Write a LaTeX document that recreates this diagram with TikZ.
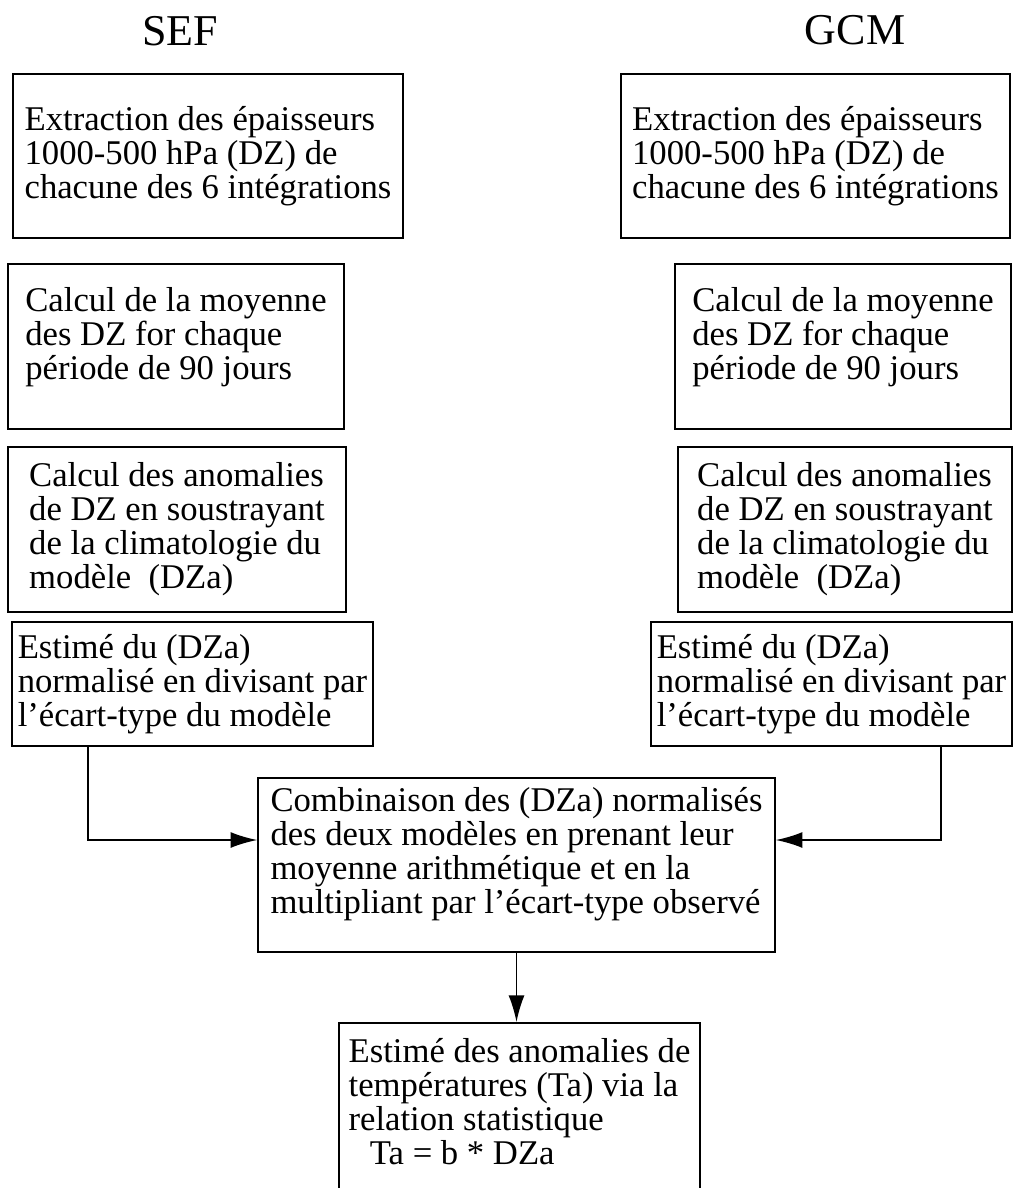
\documentclass[tikz,border=0pt]{standalone}
\usepackage{fontspec}
\setmainfont{Liberation Serif}
\usetikzlibrary{arrows.meta}
\begin{document}
\begin{tikzpicture}[x=0.75pt,y=-0.75pt,
  box/.style={draw, line width=1.2pt, align=left, font=\fontsize{26pt}{25.5pt}\selectfont, inner sep=0pt},
  titletext/.style={font=\fontsize{33pt}{36pt}\selectfont, anchor=base, inner sep=0pt},
  arr/.style={line width=1.2pt, -{Latex[length=20pt,width=12pt]}}]
\useasboundingbox (0,0) rectangle (1013,1188);
\clip (0,0) rectangle (1013,1188);

\node[titletext] (sef) at (180,46) {SEF};
\node[titletext] (gcm) at (855,45) {GCM};

\node[box, minimum width=292.5pt, minimum height=123pt] (l1) at (208,156)
  {Extraction des épaisseurs\\1000-500 hPa (DZ) de\\chacune des 6 intégrations};
\node[box, minimum width=291.75pt, minimum height=123pt] (r1) at (815.5,156)
  {Extraction des épaisseurs\\1000-500 hPa (DZ) de\\chacune des 6 intégrations};

\node[box, minimum width=252pt, minimum height=123.75pt] (l2) at (176,346.5)
  {Calcul de la moyenne\\des DZ for chaque\\période de 90 jours\\[-6pt]};
\node[box, minimum width=252pt, minimum height=123.75pt] (r2) at (843,346.5)
  {Calcul de la moyenne\\des DZ for chaque\\période de 90 jours\\[-6pt]};

\node[box, minimum width=253.5pt, minimum height=123.75pt] (l3) at (177,529.5)
  {Calcul des anomalies\\de DZ en soustrayant\\de la climatologie du\\modèle~~(DZa)};
\node[box, minimum width=250.5pt, minimum height=123.75pt] (r3) at (845,529.5)
  {Calcul des anomalies\\de DZ en soustrayant\\de la climatologie du\\modèle~~(DZa)};

\node[box, minimum width=270.75pt, minimum height=93pt] (l4) at (192.5,684)
  {Estimé du (DZa)\\normalisé en divisant par\\l’écart-type du modèle};
\node[box, minimum width=270.75pt, minimum height=93pt] (r4) at (831.5,684)
  {Estimé du (DZa)\\normalisé en divisant par\\l’écart-type du modèle};

\node[box, minimum width=387.75pt, minimum height=130.5pt] (c) at (516.5,865)
  {Combinaison des (DZa) normalisés\\des deux modèles en prenant leur\\moyenne arithmétique et en la\\multipliant par l’écart-type observé\\[-4pt]};

\node[box, minimum width=270.75pt, inner ysep=12pt, anchor=north] (b) at (519.5,1022)
  {Estimé des anomalies de\\températures (Ta) via la\\relation statistique\\\hspace*{16pt}Ta = b * DZa\\[10pt]};

\draw[arr] ([xshift=-78.4pt]l4.south) |- ([yshift=18.75pt]c.west);
\draw[arr] ([xshift=82.1pt]r4.south) |- ([yshift=18.75pt]c.east);
\draw[arr] (c.south -| b.north) ++(-3,0) -- ([xshift=-2.25pt]b.north);
\end{tikzpicture}
\end{document}
